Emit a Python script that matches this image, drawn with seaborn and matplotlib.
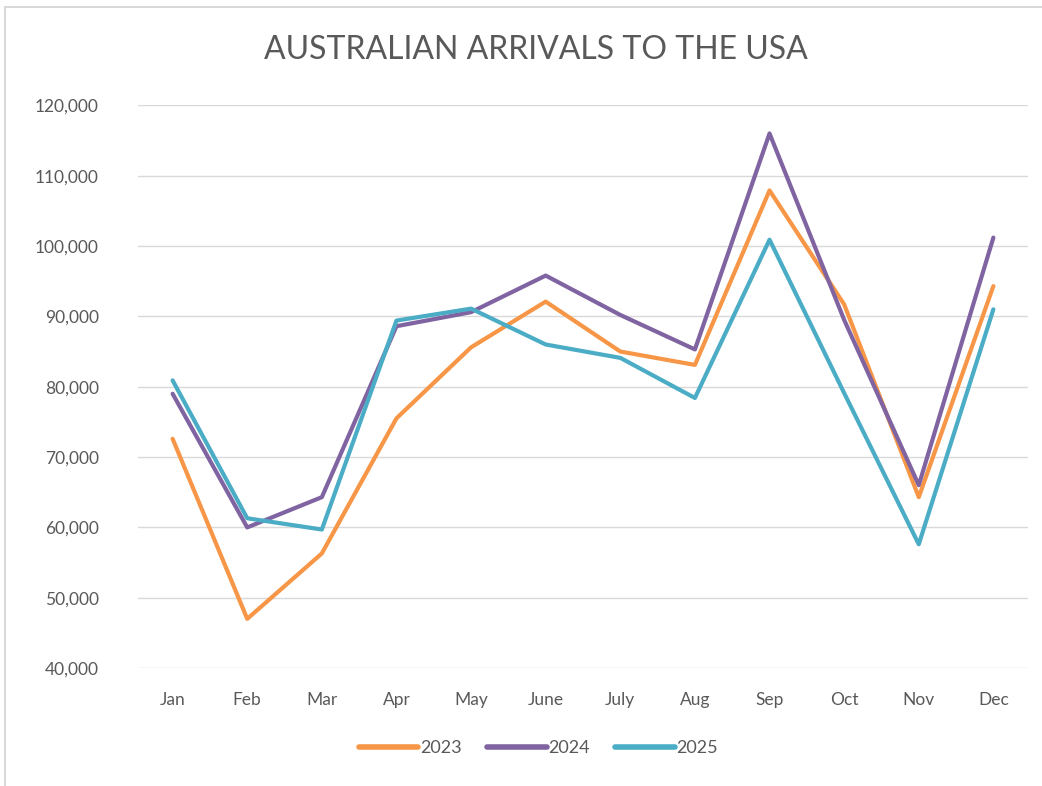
import numpy as np
import pandas as pd
import matplotlib
matplotlib.use("Agg")
import matplotlib.pyplot as plt
import seaborn as sns
from matplotlib.lines import Line2D

months = ['Jan', 'Feb', 'Mar', 'Apr', 'May', 'June', 'July', 'Aug', 'Sep', 'Oct', 'Nov', 'Dec']
y2023 = [72600, 47000, 56300, 75500, 85600, 92100, 85000, 83100, 107900, 91700, 64300, 94300]
y2024 = [79000, 60000, 64300, 88600, 90600, 95800, 90200, 85300, 116000, 89500, 66000, 101200]
y2025 = [80900, 61300, 59700, 89400, 91100, 86000, 84100, 78400, 100900, 79100, 57600, 91000]
years = ['2023', '2024', '2025']
colors = ['#F79646', '#8064A2', '#4BACC6']

df = pd.DataFrame({
    'month': months * 3,
    'arrivals': y2023 + y2024 + y2025,
    'year': [y for y in years for _ in months],
})

sns.set_style("white")
plt.rcParams['font.family'] = ['Lato', 'DejaVu Sans']

fig = plt.figure(figsize=(10.42, 7.86), dpi=100)
ax = fig.add_axes([0.132, 0.150, 0.855, 0.716])

sns.lineplot(data=df, x='month', y='arrivals', hue='year', palette=colors,
             sort=False, linewidth=3, ax=ax)

ax.set_xlim(-0.47, 11.47)
ax.set_ylim(40000, 120000)
ax.set_yticks(np.arange(40000, 120001, 10000))
ax.yaxis.set_major_formatter(matplotlib.ticker.FuncFormatter(lambda v, p: f'{int(v):,}'))
ax.grid(axis='y', color='#D9D9D9', linewidth=1)
ax.set_axisbelow(True)
for s in ax.spines.values():
    s.set_visible(False)
ax.set_xlabel('')
ax.set_ylabel('')
ax.tick_params(axis='both', length=0, labelsize=12.5, labelcolor='#595959')
ax.tick_params(axis='y', pad=28)
ax.tick_params(axis='x', pad=17)

fig.text(0.514, 0.936, 'AUSTRALIAN ARRIVALS TO THE USA', ha='center', va='center',
         fontsize=23, color='#595959', family=['Liberation Sans Narrow', 'Lato', 'DejaVu Sans'])

sns.move_legend(ax, 'upper center', bbox_to_anchor=(0.45, -0.099), ncol=3,
                frameon=False, title=None, fontsize=13, handlelength=3.3,
                handletextpad=0.1, columnspacing=1.4)
for t in ax.get_legend().get_texts():
    t.set_color('#595959')
for h in ax.get_legend().legend_handles:
    h.set_linewidth(4)

# chart border (top and left edges visible)
fig.add_artist(Line2D([0.005, 1.0], [0.991, 0.991], color='#D9D9D9', lw=1.5, transform=fig.transFigure))
fig.add_artist(Line2D([0.005, 0.005], [0.0, 0.991], color='#D9D9D9', lw=1.5, transform=fig.transFigure))

fig.savefig('out.png', dpi=100)
